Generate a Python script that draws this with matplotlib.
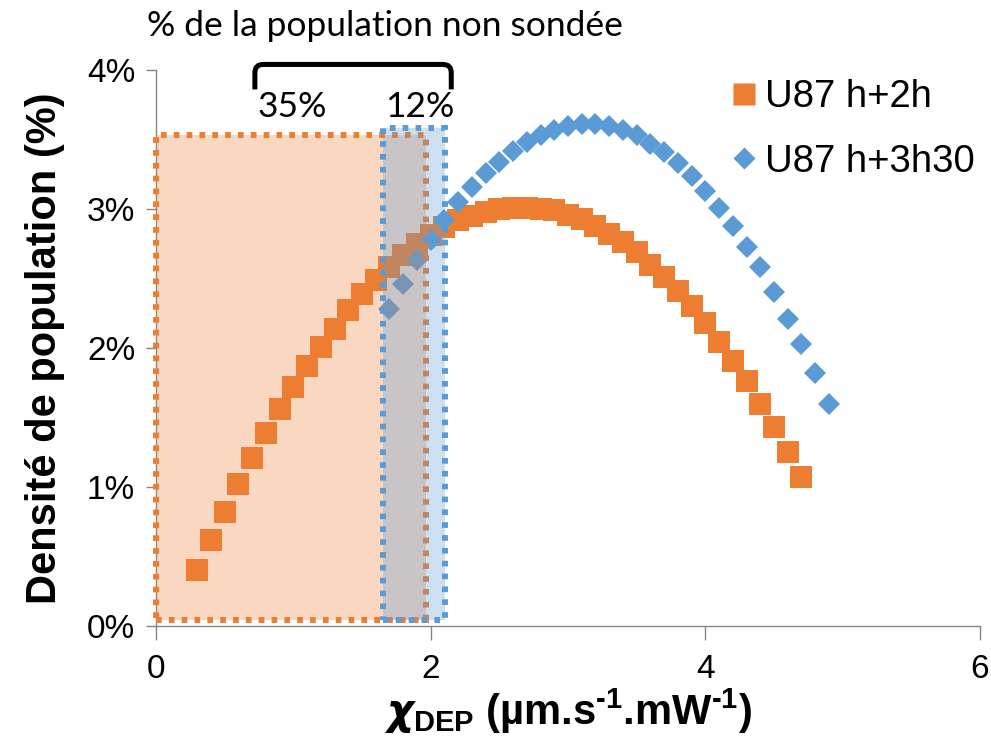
import matplotlib
matplotlib.use("Agg")
import matplotlib.pyplot as plt
from matplotlib.patches import Rectangle, PathPatch
from matplotlib.path import Path
from matplotlib.lines import Line2D

plt.rcParams['font.family'] = ['Liberation Sans', 'DejaVu Sans']
plt.rcParams['mathtext.fontset'] = 'custom'
plt.rcParams['mathtext.rm'] = 'Liberation Sans'
plt.rcParams['mathtext.bf'] = 'Liberation Sans:bold'
plt.rcParams['mathtext.it'] = 'Liberation Sans:italic'
plt.rcParams['mathtext.sf'] = 'DejaVu Sans:bold:italic'

# --- data -------------------------------------------------------------------
chi_h2 = [0.3, 0.4, 0.5, 0.6, 0.7, 0.8, 0.9, 1.0, 1.1, 1.2, 1.3, 1.4, 1.5,
          1.6, 1.7, 1.8, 1.9, 2.0, 2.1, 2.2, 2.3, 2.4, 2.5, 2.6, 2.7, 2.8,
          2.9, 3.0, 3.1, 3.2, 3.3, 3.4, 3.5, 3.6, 3.7, 3.8, 3.9, 4.0, 4.1,
          4.2, 4.3, 4.4, 4.5, 4.6, 4.7]
dens_h2 = [0.40, 0.62, 0.82, 1.02, 1.21, 1.39, 1.56, 1.72, 1.87, 2.01, 2.14,
           2.27, 2.39, 2.49, 2.58, 2.67, 2.75, 2.81, 2.87, 2.92, 2.95, 2.98,
           3.00, 3.01, 3.01, 3.00, 2.99, 2.96, 2.93, 2.88, 2.82, 2.76, 2.69,
           2.60, 2.51, 2.41, 2.30, 2.18, 2.04, 1.91, 1.76, 1.60, 1.43, 1.25,
           1.07]

chi_h330 = [1.7, 1.8, 1.9, 2.0, 2.1, 2.2, 2.3, 2.4, 2.5, 2.6, 2.7, 2.8, 2.9,
            3.0, 3.1, 3.2, 3.3, 3.4, 3.5, 3.6, 3.7, 3.8, 3.9, 4.0, 4.1, 4.2,
            4.3, 4.4, 4.5, 4.6, 4.7, 4.8, 4.9]
dens_h330 = [2.28, 2.46, 2.63, 2.78, 2.92, 3.05, 3.16, 3.26, 3.34, 3.42, 3.48,
             3.53, 3.57, 3.60, 3.61, 3.61, 3.60, 3.57, 3.53, 3.47, 3.41, 3.33,
             3.24, 3.13, 3.01, 2.88, 2.73, 2.58, 2.40, 2.21, 2.03, 1.82, 1.60]

series_labels = ["U87 h+2h", "U87 h+3h30"]

# unprobed ranges (x span, y span) for each series
zone_h2_x = [0.0, 1.965]
zone_h2_y = [0.04, 3.53]
zone_h330_x = [1.65, 2.105]
zone_h330_y = [0.04, 3.58]
unprobed_pct = ["35%", "12%"]

x_ticks = [0, 2, 4, 6]
y_ticks = [0, 1, 2, 3, 4]

ORANGE = '#ED7D31'
BLUE = '#5B9BD5'
AXIS_GREY = '#868686'

# --- figure -----------------------------------------------------------------
fig = plt.figure(figsize=(9.91, 7.36), dpi=100)
ax = fig.add_axes([156 / 991, 1 - 626 / 736, (980 - 156) / 991, (626 - 70) / 736])
ax.set_xlim(0, 6)
ax.set_ylim(0, 4)

ax.plot(chi_h2, dens_h2, linestyle='none', marker='s', ms=15.8,
        mfc=ORANGE, mec='none', mew=0, zorder=3, label=series_labels[0])
ax.plot(chi_h330, dens_h330, linestyle='none', marker='D', ms=11.2,
        mfc=BLUE, mec='none', mew=0, zorder=3, label=series_labels[1])

dots = (0, (0.95, 1.2))
for (xs, ys, col, z) in [(zone_h2_x, zone_h2_y, ORANGE, 4),
                         (zone_h330_x, zone_h330_y, BLUE, 5)]:
    r = Rectangle((xs[0], ys[0]), xs[1] - xs[0], ys[1] - ys[0],
                  facecolor=matplotlib.colors.to_rgba(col, 0.3),
                  edgecolor=col, linewidth=4.3, linestyle=dots,
                  capstyle='butt', zorder=z, clip_on=False)
    ax.add_patch(r)

# spines and ticks
for s in ['top', 'right']:
    ax.spines[s].set_visible(False)
for s in ['left', 'bottom']:
    ax.spines[s].set_color(AXIS_GREY)
    ax.spines[s].set_linewidth(1.0)
    ax.spines[s].set_zorder(2)
ax.set_xticks(x_ticks)
ax.set_xticklabels([str(t) for t in x_ticks])
ax.set_yticks(y_ticks)
ax.set_yticklabels([f"{t}%" for t in y_ticks])
ax.tick_params(axis='both', colors=AXIS_GREY, labelcolor='black',
               labelsize=24, width=1.0, direction='out')
ax.tick_params(axis='x', length=10, pad=10)
ax.tick_params(axis='y', length=7, pad=8)

ax.set_ylabel("Densité de population (%)", fontsize=30, fontweight='bold',
              labelpad=16)
ax.set_xlabel(r'$\mathsf{χ}_{\mathbf{DEP}}$ (µm.s$^{\mathbf{‐1}}$.mW$^{\mathbf{‐1}}$)',
              fontsize=30, fontweight='bold', labelpad=1)

# title and bracket over the unprobed ranges
fig.text(147 / 991, 1 - 36 / 736, "% de la population non sondée",
         family='Lato', fontsize=25.5, va='baseline', ha='left')

bx0, bx1, by_top, by_bot, rad = 0.72, 2.15, 4.04, 3.86, 0.06
verts = [(bx0, by_bot), (bx0, by_top - rad), (bx0, by_top), (bx0 + rad, by_top),
         (bx1 - rad, by_top), (bx1, by_top), (bx1, by_top - rad), (bx1, by_bot)]
codes = [Path.MOVETO, Path.LINETO, Path.CURVE3, Path.CURVE3,
         Path.LINETO, Path.CURVE3, Path.CURVE3, Path.LINETO]
ax.add_patch(PathPatch(Path(verts, codes), facecolor='none', edgecolor='black',
                       linewidth=3.6, capstyle='butt', clip_on=False, zorder=6))

for xpos, txt in zip([0.74, 1.67], unprobed_pct):
    ax.text(xpos, 3.66, txt, family='Lato', fontsize=25.5, ha='left',
            va='baseline', zorder=7)

# legend
handles = [Line2D([], [], linestyle='none', marker='s', ms=15.8, mfc=ORANGE,
                  mec='none'),
           Line2D([], [], linestyle='none', marker='D', ms=11.2, mfc=BLUE,
                  mec='none')]
leg = fig.legend(handles, series_labels, loc='upper left',
                 bbox_to_anchor=(729 / 991, 1 - 79 / 736), frameon=False,
                 fontsize=27.5, handlelength=0.8, handletextpad=0.15,
                 labelspacing=0.75, borderpad=0, borderaxespad=0)

fig.savefig("out.png", dpi=100)
